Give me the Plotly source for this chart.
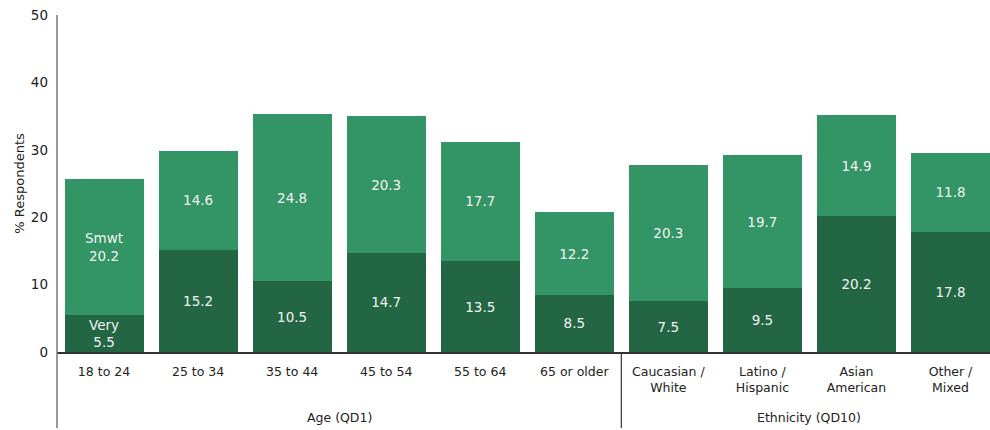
import plotly.graph_objects as go

categories = ["18 to 24", "25 to 34", "35 to 44", "45 to 54", "55 to 64", "65 or older",
              "Caucasian /<br>White", "Latino /<br>Hispanic", "Asian<br>American", "Other /<br>Mixed"]
very = [5.5, 15.2, 10.5, 14.7, 13.5, 8.5, 7.5, 9.5, 20.2, 17.8]
smwt = [20.2, 14.6, 24.8, 20.3, 17.7, 12.2, 20.3, 19.7, 14.9, 11.8]
groups = ["Age (QD1)", "Ethnicity (QD10)"]
group_sizes = [6, 4]
y_ticks = [0, 10, 20, 30, 40, 50]

FONT = "DejaVu Sans"
DARK = "#236644"
LIGHT = "#339465"

x = list(range(len(categories)))
very_text = [("Very<br>%.1f" % v) if i == 0 else ("%.1f" % v) for i, v in enumerate(very)]
smwt_text = [("Smwt<br>%.1f" % v) if i == 0 else ("%.1f" % v) for i, v in enumerate(smwt)]

fig = go.Figure()
fig.add_trace(go.Bar(x=x, y=very, marker=dict(color=DARK, line=dict(width=0)),
                     text=very_text, textposition="inside", insidetextanchor="middle",
                     textangle=0, textfont=dict(color="#f2f2f2", size=13.5, family=FONT),
                     name="Very", hoverinfo="skip"))
fig.add_trace(go.Bar(x=x, y=smwt, marker=dict(color=LIGHT, line=dict(width=0)),
                     text=smwt_text, textposition="inside", insidetextanchor="middle",
                     textangle=0, textfont=dict(color="#f2f2f2", size=13.5, family=FONT),
                     name="Smwt", hoverinfo="skip"))

H = 430
t, b = 15, 78
plot_h = H - t - b
below = (428 - 352) / plot_h

shapes = [
    # left axis extended down
    dict(type="line", xref="paper", yref="paper", x0=0, x1=0, y0=-below, y1=1,
         line=dict(color="#777777", width=1.5)),
]
annotations = []
start = 0
for g, n in zip(groups, group_sizes):
    center = start + (n - 1) / 2
    annotations.append(dict(x=center, y=-(417 - 352) / plot_h, xref="x", yref="paper",
                            text=g, showarrow=False, font=dict(size=12.5, family=FONT, color="#222"),
                            xanchor="center", yanchor="middle"))
    if start > 0:
        shapes.append(dict(type="line", xref="x", yref="paper", x0=start - 0.5, x1=start - 0.5,
                           y0=-below, y1=0, line=dict(color="#333333", width=1.2)))
    start += n

fig.update_layout(
    width=990, height=H,
    margin=dict(l=57, r=0, t=t, b=b),
    barmode="stack", bargap=0.16,
    plot_bgcolor="white", paper_bgcolor="white",
    showlegend=False,
    font=dict(family=FONT, size=12.5, color="#222"),
    uniformtext=dict(minsize=13.5, mode="show"),
    xaxis=dict(tickmode="array", tickvals=x, ticktext=categories, range=[-0.5, 9.42],
               showline=True, linecolor="#333333", linewidth=1.5, ticks="", showgrid=False,
               tickfont=dict(size=12.5, family=FONT, color="#222"), fixedrange=True,
               automargin=False, ticklabelstandoff=7),
    yaxis=dict(range=[0, 50], tickvals=y_ticks, showgrid=False, showline=False, zeroline=False,
               ticks="", tickfont=dict(size=13.5, family=FONT, color="#222"),
               title=dict(text="% Respondents", font=dict(size=13, family=FONT, color="#222"), standoff=3),
               fixedrange=True, automargin=False, ticklabelstandoff=8),
    shapes=shapes, annotations=annotations,
)

fig.write_html("out.html", config={"displayModeBar": False},
               post_script="document.body.style.margin='0';document.body.style.overflow='hidden';")
